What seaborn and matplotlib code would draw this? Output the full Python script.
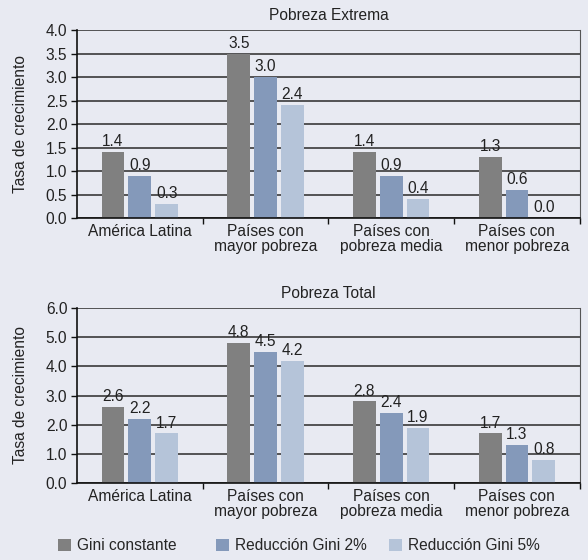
import numpy as np
import pandas as pd
import matplotlib
matplotlib.use("Agg")
import matplotlib.pyplot as plt
import seaborn as sns

categories = ["América Latina", "Países con\nmayor pobreza",
              "Países con\npobreza media", "Países con\nmenor pobreza"]
series = ["Gini constante", "Reducción Gini 2%", "Reducción Gini 5%"]

extrema_gini_const = [1.4, 3.5, 1.4, 1.3]
extrema_gini_2 = [0.9, 3.0, 0.9, 0.6]
extrema_gini_5 = [0.3, 2.4, 0.4, 0.0]

total_gini_const = [2.6, 4.8, 2.8, 1.7]
total_gini_2 = [2.2, 4.5, 2.4, 1.3]
total_gini_5 = [1.7, 4.2, 1.9, 0.8]

colors = ["#808080", "#8499ba", "#b5c4d9"]
bg = "#e8eaf2"
fs = 11.2

sns.set_theme(style="white")
plt.rcParams["font.family"] = ["Liberation Sans", "DejaVu Sans"]
plt.rcParams["font.size"] = fs


def long_frame(values):
    rows = []
    for s, vals in zip(series, values):
        for c, v in zip(categories, vals):
            rows.append({"cat": c, "serie": s, "val": v})
    return pd.DataFrame(rows)


fig = plt.figure(figsize=(5.88, 5.60), dpi=100, facecolor=bg)
ax1 = fig.add_axes([0.131, 0.6107, 0.855, 0.3357])
ax2 = fig.add_axes([0.131, 0.1375, 0.855, 0.3125])

panels = [
    (ax1, long_frame([extrema_gini_const, extrema_gini_2, extrema_gini_5]),
     "Pobreza Extrema", 4.0, 0.5),
    (ax2, long_frame([total_gini_const, total_gini_2, total_gini_5]),
     "Pobreza Total", 6.0, 1.0),
]

for ax, df, title, ymax, step in panels:
    ax.set_facecolor(bg)
    sns.barplot(data=df, x="cat", y="val", hue="serie", order=categories,
                hue_order=series, palette=colors, width=0.64, gap=0.15,
                saturation=1, ax=ax, legend=True, edgecolor="none")
    for cont in ax.containers:
        ax.bar_label(cont, fmt="%.1f", padding=2, fontsize=fs, color="#222222")
    ax.set_ylim(0, ymax)
    ax.set_xlim(-0.5, 3.5)
    yt = np.arange(0, ymax + step / 2, step)
    ax.set_yticks(yt)
    ax.set_yticklabels([f"{v:.1f}" for v in yt], fontsize=fs, color="#222222")
    ax.yaxis.grid(True, color="#2a2a2a", linewidth=1.1)
    ax.set_axisbelow(True)
    ax.tick_params(axis="y", left=True, length=4, width=1, color="#111111", pad=3)
    ax.set_xticks(range(4))
    ax.set_xticklabels(categories, fontsize=fs, color="#222222",
                       linespacing=1.05)
    ax.tick_params(axis="x", which="major", bottom=False, length=0, pad=4)
    ax.set_xticks([0.5, 1.5, 2.5, 3.5], minor=True)
    ax.tick_params(axis="x", which="minor", bottom=True, length=4, width=1,
                   color="#111111")
    for side in ["left", "bottom"]:
        ax.spines[side].set_color("#111111")
        ax.spines[side].set_linewidth(1.2)
    ax.spines["top"].set_visible(False)
    ax.spines["right"].set_color("#555555")
    ax.spines["right"].set_linewidth(0.8)
    ax.set_xlabel("")
    ax.set_ylabel("Tasa de crecimiento", fontsize=fs, color="#222222",
                  labelpad=13)
    ax.set_title(title, fontsize=fs, color="#222222", pad=7)
    handles, labels = ax.get_legend_handles_labels()
    ax.get_legend().remove()

for h in handles:
    h.set_edgecolor("none")

# one legend entry per slot, placed at fixed horizontal positions
for h, lab, x0 in zip(handles, labels, [58 / 588, 216 / 588, 389 / 588]):
    fig.legend([h], [lab], loc="center left", bbox_to_anchor=(x0, 14 / 560),
               frameon=False, fontsize=fs, handlelength=0.83,
               handleheight=0.77, handletextpad=0.4, borderpad=0,
               borderaxespad=0)

fig.savefig("out.png", dpi=100, facecolor=bg)
